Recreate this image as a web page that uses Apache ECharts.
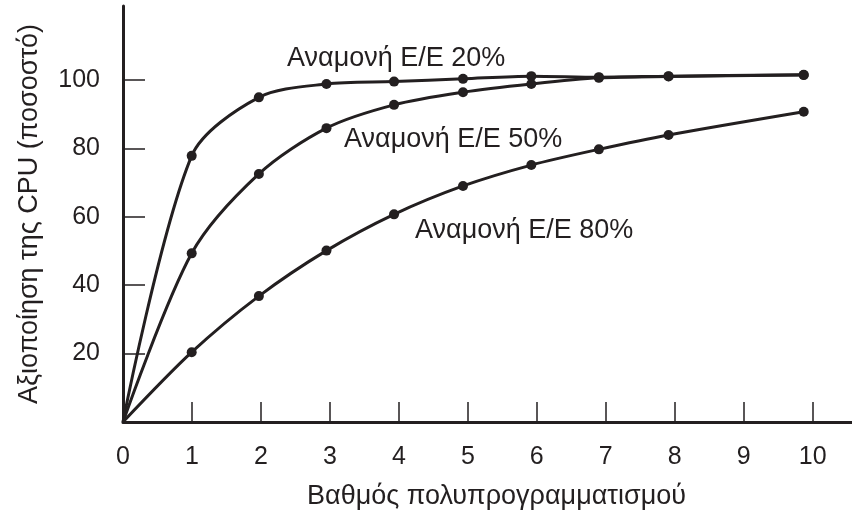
<!DOCTYPE html>
<html>
<head>
<meta charset="utf-8">
<script src="https://cdn.jsdelivr.net/npm/echarts@6/dist/echarts.min.js"></script>
<style>
  html, body { margin: 0; padding: 0; background: #fff; }
  #main { width: 852px; height: 511px; }
</style>
</head>
<body>
<div id="main"></div>
<script>
// θέσεις των σημείων στον άξονα x (όπως διαβάζονται στο σχήμα)
var xs = [0, 0.996, 1.97, 2.95, 3.93, 4.93, 5.92, 6.90, 7.91, 9.87];

// αξιοποίηση CPU (%) για κάθε ποσοστό αναμονής Ε/Ε
var wait20 = [0, 77.8, 94.9, 98.8, 99.5, 100.3, 101.1, 100.8, 101.1, 101.5];
var wait50 = [0, 49.3, 72.5, 85.9, 92.7, 96.4, 98.8, 100.6, 101.0, 101.4];
var wait80 = [0, 20.4, 36.8, 50.1, 60.7, 69.0, 75.1, 79.7, 83.9, 90.7];

var xTickLabels = [0, 1, 2, 3, 4, 5, 6, 7, 8, 9, 10];
var xTicks = [1, 2, 3, 4, 5, 6, 7, 8, 9, 10];
var yTicks = [20, 40, 60, 80, 100];

var labels = ['Αναμονή Ε/Ε 20%', 'Αναμονή Ε/Ε 50%', 'Αναμονή Ε/Ε 80%'];

var ink = '#231f20';
var fnt = '"Liberation Sans", Arial, sans-serif';

function pts(vals) {
    return vals.map(function (v, i) {
        if (i === 0) return { value: [xs[i], v], symbol: 'none' };
        return [xs[i], v];
    });
}

function curve(vals) {
    return {
        type: 'line',
        data: pts(vals),
        smooth: 0.3,
        symbol: 'circle',
        symbolSize: 10,
        lineStyle: { color: ink, width: 3 },
        itemStyle: { color: ink },
        animation: false
    };
}

var myChart = echarts.init(document.getElementById('main'));

var option = {
    backgroundColor: '#fff',
    grid: { left: 123, right: 0, top: 6, bottom: 89, containLabel: false, outerBoundsMode: 'none' },
    xAxis: {
        type: 'value',
        min: 0,
        max: 10.57,
        interval: 1,
        name: 'Βαθμός πολυπρογραμματισμού',
        nameLocation: 'middle',
        nameGap: 61,
        nameTextStyle: { fontFamily: fnt, fontSize: 27, color: ink, padding: [0, 0, 0, 18] },
        axisLine: { lineStyle: { color: ink, width: 3 } },
        axisTick: { inside: true, length: 20, lineStyle: { color: ink, width: 1.5 }, customValues: xTicks },
        axisLabel: { fontFamily: fnt, fontSize: 25, color: ink, margin: 23, customValues: xTickLabels },
        splitLine: { show: false }
    },
    yAxis: {
        type: 'value',
        min: 0,
        max: 121.6,
        interval: 20,
        name: 'Αξιοποίηση της CPU (ποσοστό)',
        nameLocation: 'middle',
        nameGap: 80,
        nameTextStyle: { fontFamily: fnt, fontSize: 27, color: ink },
        axisLine: { lineStyle: { color: ink, width: 3 } },
        axisTick: { inside: true, length: 22, lineStyle: { color: ink, width: 1.5 }, customValues: yTicks },
        axisLabel: { fontFamily: fnt, fontSize: 25, color: ink, margin: 23, customValues: yTicks },
        splitLine: { show: false }
    },
    graphic: [
        { type: 'text', x: 287, y: 59, style: { text: labels[0], font: '27px ' + fnt, fill: ink, verticalAlign: 'middle' } },
        { type: 'text', x: 344, y: 140, style: { text: labels[1], font: '27px ' + fnt, fill: ink, verticalAlign: 'middle' } },
        { type: 'text', x: 415, y: 231, style: { text: labels[2], font: '27px ' + fnt, fill: ink, verticalAlign: 'middle' } }
    ],
    series: [curve(wait20), curve(wait50), curve(wait80)]
};

myChart.setOption(option);
</script>
</body>
</html>
